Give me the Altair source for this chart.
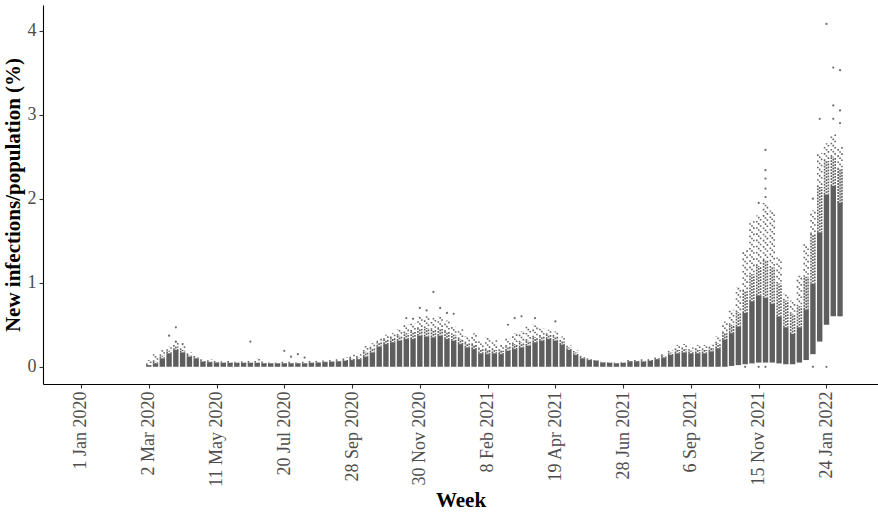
import altair as alt
import pandas as pd

# week positions (category index; tick every 10 weeks)
week_index = list(range(10, 113))

lo = [0, 0, 0, 0, 0, 0, 0, 0, 0, 0,
      0, 0, 0, 0, 0, 0, 0, 0, 0, 0,
      0, 0, 0, 0, 0, 0, 0, 0, 0, 0,
      0, 0, 0, 0, 0, 0, 0, 0, 0, 0,
      0, 0, 0, 0, 0, 0, 0, 0, 0, 0,
      0, 0, 0, 0, 0, 0, 0, 0, 0, 0,
      0, 0, 0, 0, 0, 0, 0, 0, 0, 0,
      0, 0, 0, 0, 0, 0, 0, 0, 0, 0,
      0, 0, 0, 0, 0, 0, 0.01, 0.02, 0.03, 0.04,
      0.05, 0.05, 0.05, 0.04, 0.03, 0.03, 0.05, 0.08, 0.15, 0.3,
      0.5, 0.6, 0.6]

solid_top = [0.02, 0.04, 0.10, 0.16, 0.20, 0.17, 0.12, 0.10, 0.06, 0.055,
             0.05, 0.045, 0.045, 0.045, 0.045, 0.045, 0.045, 0.04, 0.04, 0.04,
             0.04, 0.04, 0.04, 0.04, 0.045, 0.05, 0.055, 0.06, 0.065, 0.07,
             0.08, 0.09, 0.12, 0.17, 0.24, 0.27, 0.29, 0.31, 0.33, 0.33,
             0.37, 0.36, 0.35, 0.37, 0.33, 0.31, 0.27, 0.23, 0.21, 0.16,
             0.15, 0.16, 0.15, 0.19, 0.21, 0.23, 0.25, 0.29, 0.31, 0.33,
             0.31, 0.26, 0.20, 0.14, 0.10, 0.08, 0.07, 0.05, 0.045, 0.04,
             0.045, 0.065, 0.065, 0.06, 0.07, 0.09, 0.11, 0.14, 0.16, 0.17,
             0.16, 0.16, 0.16, 0.18, 0.22, 0.32, 0.40, 0.48, 0.64, 0.78,
             0.85, 0.82, 0.75, 0.60, 0.47, 0.39, 0.47, 0.68, 0.99, 1.60,
             2.05, 2.15, 1.95]

mid_top = [0.02, 0.06, 0.13, 0.19, 0.24, 0.20, 0.14, 0.11, 0.07, 0.06,
           0.055, 0.05, 0.05, 0.05, 0.05, 0.05, 0.05, 0.045, 0.045, 0.045,
           0.045, 0.045, 0.045, 0.045, 0.05, 0.055, 0.06, 0.065, 0.07, 0.08,
           0.10, 0.11, 0.18, 0.22, 0.29, 0.32, 0.34, 0.37, 0.40, 0.42,
           0.45, 0.46, 0.44, 0.45, 0.42, 0.38, 0.33, 0.28, 0.26, 0.21,
           0.20, 0.20, 0.19, 0.24, 0.27, 0.29, 0.31, 0.35, 0.36, 0.38,
           0.36, 0.30, 0.23, 0.17, 0.12, 0.09, 0.075, 0.055, 0.05, 0.045,
           0.05, 0.07, 0.07, 0.07, 0.08, 0.10, 0.13, 0.17, 0.20, 0.21,
           0.19, 0.20, 0.20, 0.22, 0.28, 0.40, 0.50, 0.65, 0.90, 1.10,
           1.20, 1.27, 1.18, 0.99, 0.79, 0.63, 0.72, 1.07, 1.58, 2.14,
           2.45, 2.50, 2.35]

max_top = [0.08, 0.15, 0.20, 0.24, 0.30, 0.25, 0.17, 0.13, 0.09, 0.09,
           0.07, 0.065, 0.07, 0.06, 0.065, 0.07, 0.10, 0.065, 0.05, 0.05,
           0.06, 0.06, 0.05, 0.06, 0.07, 0.07, 0.075, 0.08, 0.09, 0.11,
           0.15, 0.15, 0.25, 0.28, 0.34, 0.38, 0.40, 0.45, 0.50, 0.52,
           0.60, 0.60, 0.58, 0.60, 0.55, 0.48, 0.45, 0.36, 0.40, 0.30,
           0.35, 0.32, 0.26, 0.34, 0.40, 0.42, 0.48, 0.50, 0.46, 0.44,
           0.42, 0.36, 0.26, 0.20, 0.13, 0.10, 0.08, 0.06, 0.055, 0.05,
           0.055, 0.08, 0.08, 0.09, 0.09, 0.11, 0.15, 0.20, 0.26, 0.27,
           0.23, 0.26, 0.26, 0.27, 0.36, 0.54, 0.68, 0.95, 1.39, 1.74,
           1.80, 1.95, 1.86, 1.30, 0.87, 0.79, 1.09, 1.46, 1.86, 2.54,
           2.66, 2.77, 2.62]

outlier_week = [13, 14, 14, 15, 25, 30, 31, 32, 33,
                48, 49, 50, 51, 52, 53, 54, 55,
                63, 64, 65, 67, 70,
                100, 101, 101, 101, 101, 101, 108, 109,
                110, 111, 111, 111, 112, 112, 112,
                98, 100, 101, 108, 110]
outlier_value = [0.37, 0.47, 0.30, 0.27, 0.30, 0.19, 0.12, 0.15, 0.11,
                 0.58, 0.57, 0.70, 0.67, 0.89, 0.70, 0.64, 0.63,
                 0.50, 0.58, 0.60, 0.58, 0.54,
                 1.95, 2.58, 2.34, 2.24, 2.12, 2.02, 2.00, 2.95,
                 4.08, 3.56, 3.11, 2.95, 3.53, 3.05, 2.90,
                 0.0, 0.0, 0.0, 0.0, 0.0]

tick_index = [0, 10, 20, 30, 40, 50, 60, 70, 80, 90, 100, 110]
tick_labels = ["1 Jan 2020", "2 Mar 2020", "11 May 2020", "20 Jul 2020",
               "28 Sep 2020", "30 Nov 2020", "8 Feb 2021", "19 Apr 2021",
               "28 Jun 2021", "6 Sep 2021", "15 Nov 2021", "24 Jan 2022"]

bands = pd.DataFrame({"week": week_index, "lo": lo, "solid": solid_top,
                      "mid": mid_top, "top": max_top})
outliers = pd.DataFrame({"week": outlier_week, "value": outlier_value})

FONT = "Liberation Serif"
COLOR = "#555555"
label_expr = "[" + ",".join("'" + s + "'" for s in tick_labels) + "][round(datum.value/10)]"

xscale = alt.Scale(domain=[-5.6, 117.6], nice=False, zero=False)
yscale = alt.Scale(domain=[-0.205, 4.305], nice=False, zero=False)

xaxis = alt.Axis(values=tick_index, labelExpr=label_expr, title="Week",
                 labelAngle=270, labelAlign="right", labelBaseline="middle",
                 grid=False, tickSize=4, labelPadding=3, titlePadding=3)
yaxis = alt.Axis(values=[0, 1, 2, 3, 4], format="d",
                 title="New infections/population (%)",
                 grid=False, tickSize=4, labelPadding=3, titlePadding=4)

base = alt.Chart(bands)

# solid core of each week's cloud (carries the axes)
solid = base.mark_rule(strokeWidth=5.4, color=COLOR, opacity=0.95, strokeCap="butt").encode(
    x=alt.X("week:Q", scale=xscale, axis=xaxis),
    y=alt.Y("lo:Q", scale=yscale, axis=yaxis),
    y2="solid:Q",
)


def speckle(lo_field, hi_field, dash, offsets, opacity):
    """Thin dashed rules side by side, imitating jittered dots."""
    layers = []
    for dx, off in offsets:
        layers.append(
            base.mark_rule(strokeWidth=1.6, color=COLOR, opacity=opacity,
                           strokeCap="butt", strokeDash=dash, strokeDashOffset=off,
                           xOffset=dx)
            .encode(x=alt.X("week:Q", scale=xscale),
                    y=alt.Y(f"{lo_field}:Q", scale=yscale),
                    y2=f"{hi_field}:Q")
        )
    return layers


sparse_layers = speckle("mid", "top", [1.6, 4.6],
                        [(-1.9, 0.0), (0.0, 2.1), (1.9, 4.2)], 0.9)
medium_layers = speckle("solid", "mid", [1.8, 1.2],
                        [(-1.9, 0.0), (0.0, 1.5), (1.9, 0.75)], 0.95)

points = alt.Chart(outliers).mark_circle(size=5, color=COLOR, opacity=0.85).encode(
    x=alt.X("week:Q", scale=xscale),
    y=alt.Y("value:Q", scale=yscale),
)

chart = alt.layer(solid, *sparse_layers, *medium_layers, points).properties(
    width=835, height=379,
    autosize=alt.AutoSizeParams(type="none"),
    padding={"left": 43, "top": 5, "right": 0, "bottom": 128},
    background="white",
).configure_view(stroke=None).configure_axis(
    labelFont=FONT, titleFont=FONT, labelFontSize=18, titleFontSize=21,
    labelColor="#4d4d4d", titleColor="#000000", titleFontWeight="bold",
    domainColor="#000000", tickColor="#333333", domainWidth=1.1, tickWidth=1.1,
)

chart.save("out.html", embed_options={"renderer": "svg", "actions": False})
